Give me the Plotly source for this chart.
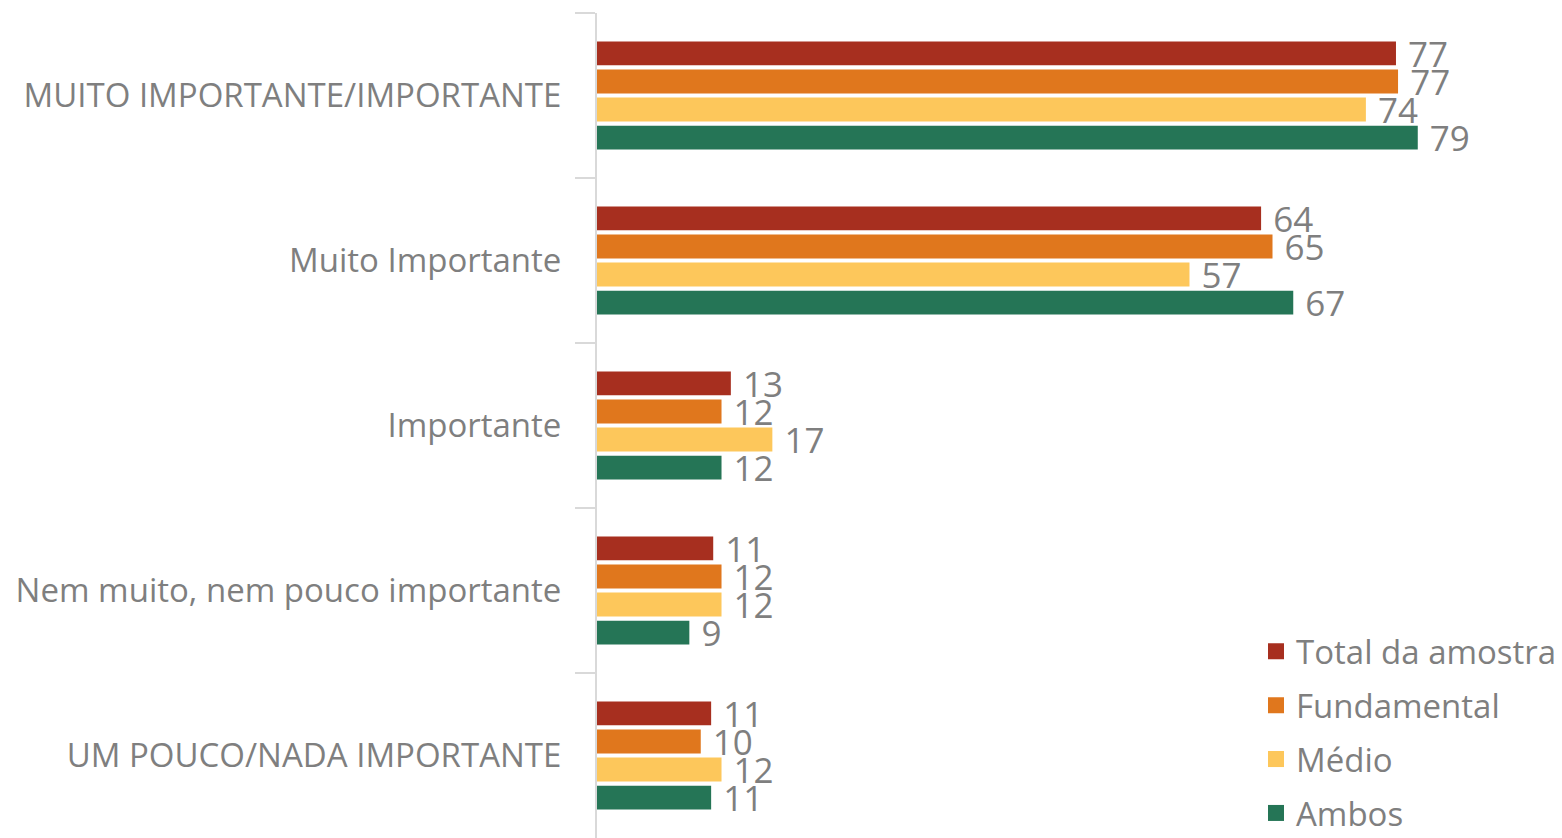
import plotly.graph_objects as go

categories = ["MUITO IMPORTANTE/IMPORTANTE", "Muito Importante", "Importante",
              "Nem muito, nem pouco importante", "UM POUCO/NADA IMPORTANTE"]
series_names = ["Total da amostra", "Fundamental", "Médio", "Ambos"]
total = [77.0, 64.0, 12.9, 11.2, 11.0]
fundamental = [77.2, 65.1, 12.0, 12.0, 10.0]
medio = [74.1, 57.1, 16.9, 12.0, 12.0]
ambos = [79.1, 67.1, 12.0, 8.9, 11.0]
colors = ["#A72F1F", "#E0771D", "#FDC75B", "#257556"]

FONT = "Open Sans"
GRAY = "#7F7F7F"

fig = go.Figure()
for i, (name, vals, col) in enumerate(zip(series_names, [total, fundamental, medio, ambos], colors)):
    fig.add_trace(go.Bar(
        name=name, y=categories, x=vals, orientation="h",
        marker=dict(color=col, line=dict(width=0)),
        text=vals, texttemplate="\u00a0%{x:.0f}", textposition="outside",
        textfont=dict(size=35, color=GRAY, family=FONT),
        constraintext="none", cliponaxis=False, showlegend=False,
    ))
for i, (name, col) in enumerate(zip(series_names, colors)):
    fig.add_trace(go.Scatter(
        name=name, x=[None], y=[None], mode="markers",
        marker=dict(symbol="square", size=18, color=col),
        legendgroup=f"g{i}", showlegend=True,
    ))

fig.update_layout(
    width=1554, height=830,
    barmode="group", bargap=0.32, bargroupgap=0.15,
    plot_bgcolor="white", paper_bgcolor="white",
    margin=dict(l=589, r=0, t=5, b=0, autoexpand=False),
    font=dict(family=FONT, color=GRAY),
    legend=dict(x=1, xanchor="right", y=-0.004, yanchor="bottom",
                font=dict(size=33, color=GRAY, family=FONT),
                bgcolor="rgba(0,0,0,0)", traceorder="grouped", tracegroupgap=8,
                itemwidth=30),
    xaxis=dict(range=[0, 93], visible=False, showgrid=False, zeroline=False),
    yaxis=dict(autorange="reversed", showline=True, linecolor="#D9D9D9", linewidth=2,
               ticks="outside", tickson="boundaries", ticklen=20, tickcolor="#D9D9D9",
               tickwidth=2, tickfont=dict(size=33, color=GRAY, family=FONT),
               ticklabelstandoff=27, automargin=False, showgrid=False),
)

fig.write_html("out.html")
